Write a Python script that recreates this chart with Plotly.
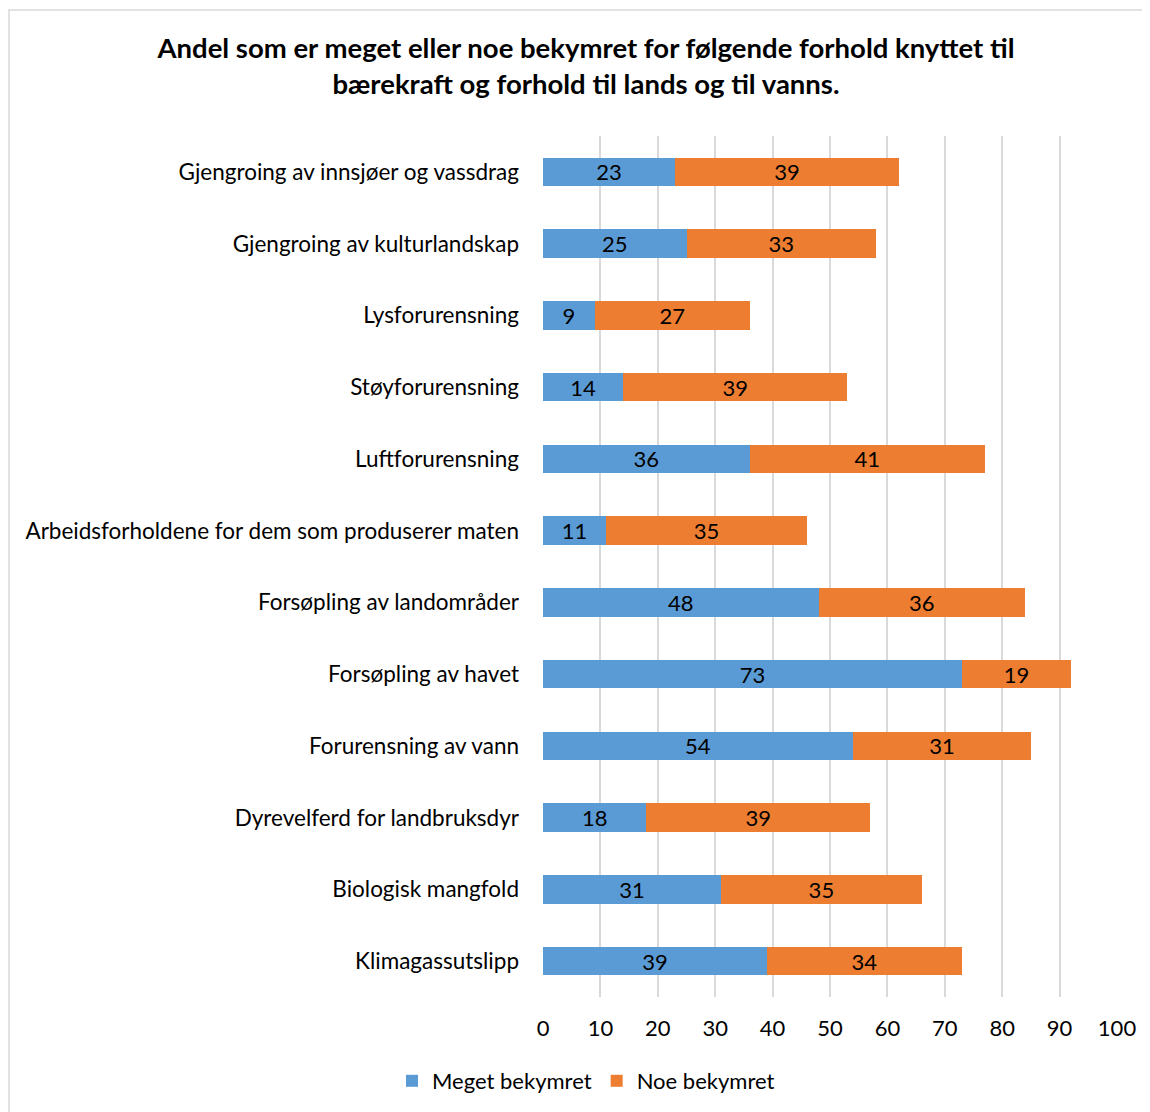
import plotly.graph_objects as go

categories = [
    "Klimagassutslipp",
    "Biologisk mangfold",
    "Dyrevelferd for landbruksdyr",
    "Forurensning av vann",
    "Forsøpling av havet",
    "Forsøpling av landområder",
    "Arbeidsforholdene for dem som produserer maten",
    "Luftforurensning",
    "Støyforurensning",
    "Lysforurensning",
    "Gjengroing av kulturlandskap",
    "Gjengroing av innsjøer og vassdrag",
]
meget = [39, 31, 18, 54, 73, 48, 11, 36, 14, 9, 25, 23]
noe = [34, 35, 39, 31, 19, 36, 35, 41, 39, 27, 33, 39]
tick_vals = [0, 10, 20, 30, 40, 50, 60, 70, 80, 90, 100]

FONT = "Lato"
OFF = 8  # page body margin
W, H = 1150 - OFF, 1112 - OFF
L, T = 543 - OFF, 136 - OFF
R = W - (1117 - OFF)
B = H - (997 - OFF)
FS = 22

fig = go.Figure()
for name, vals, col in [("Meget bekymret", meget, "#5B9BD5"), ("Noe bekymret", noe, "#ED7D31")]:
    fig.add_trace(go.Bar(
        y=categories, x=vals, orientation="h", name=name,
        marker=dict(color=col, line=dict(width=0)),
        text=vals, textposition="inside", insidetextanchor="middle",
        textangle=0, constraintext="none",
        textfont=dict(color="#000000", size=FS, family=FONT),
    ))

pw = W - L - R
ph = H - T - B
fig.add_shape(type="rect", xref="paper", yref="paper",
              x0=(1 - L) / pw, x1=(1141 - L) / pw,
              y0=-(B + 20) / ph, y1=(H - B - 2) / ph,
              line=dict(color="#D9D9D9", width=1.5), fillcolor="rgba(0,0,0,0)", layer="below")

fig.update_layout(
    width=W, height=H,
    margin=dict(l=L, r=R, t=T, b=B, pad=0),
    barmode="stack", bargap=0.6,
    plot_bgcolor="white", paper_bgcolor="white",
    font=dict(family=FONT, size=FS, color="#000000"),
    title=dict(
        text="<b>Andel som er meget eller noe bekymret for følgende forhold knyttet til<br>bærekraft og forhold til lands og til vanns.</b>",
        x=(586 - OFF) / W, xanchor="center", xref="container",
        y=1 - (58 - OFF) / H, yanchor="middle", yref="container",
        font=dict(family=FONT, size=27.5, color="#000000"),
    ),
    xaxis=dict(range=[0, 100], tickvals=tick_vals, showgrid=True,
               gridcolor="#D9D9D9", gridwidth=2, zeroline=False,
               showline=False, ticks="", tickfont=dict(size=FS),
               ticklabelstandoff=16, fixedrange=True),
    yaxis=dict(showgrid=False, zeroline=False, showline=False, ticks="",
               ticklabelstandoff=23, tickfont=dict(size=22.5), categoryorder="array",
               categoryarray=categories),
    legend=dict(orientation="h", x=(586 - OFF) / W, xref="container", xanchor="center",
                y=(1112 - 1081) / H, yref="container", yanchor="middle",
                font=dict(size=FS), traceorder="normal", itemwidth=30),
)

fig.write_html("out.html")
